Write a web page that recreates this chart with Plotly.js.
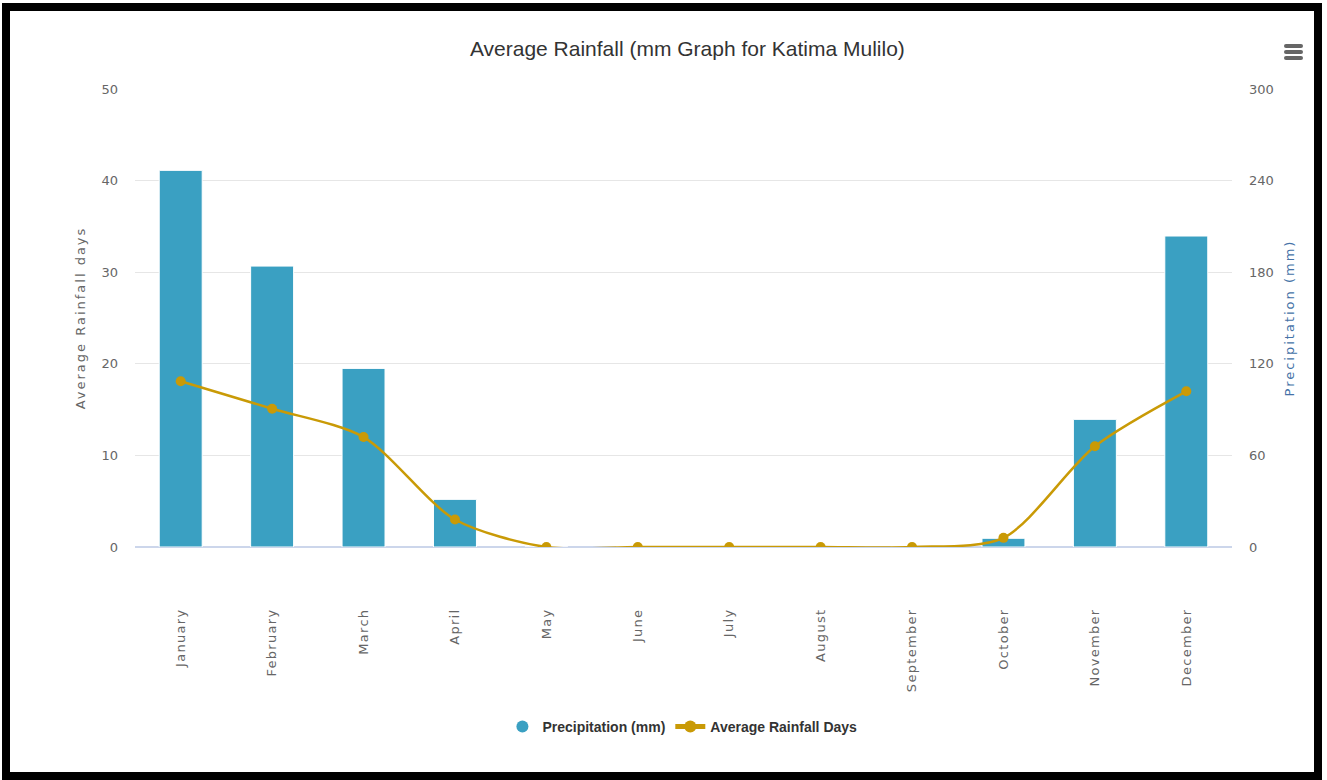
<!DOCTYPE html>
<html>
<head>
<meta charset="utf-8">
<script src="https://cdn.plot.ly/plotly-3.0.1.min.js"></script>
<style>
  html, body { margin: 0; padding: 0; background: #ffffff; width: 1327px; height: 780px; overflow: hidden; }
  #chart { position: absolute; left: 0; top: 0; width: 1327px; height: 780px; }
  #frame { position: absolute; left: 2px; top: 3px; width: 1304px; height: 761px; border: 8px solid #000; pointer-events: none; }
  #menu { position: absolute; left: 1284px; top: 44px; width: 19px; pointer-events: none; }
  #menu div { height: 4px; background: #666; border-radius: 2px; margin-bottom: 2px; }
  #chart text.ytitle, #chart text.y2title { letter-spacing: 2px; }
  #chart .xtick text { letter-spacing: 1.3px; }
</style>
</head>
<body>
<div id="chart"></div>
<div id="frame"></div>
<div id="menu"><div></div><div></div><div></div></div>
<script>
const months = ["January","February","March","April","May","June","July","August","September","October","November","December"];
const precipitationMm = [246.7, 184, 117, 31.2, 0, 0, 0, 0, 0, 5.7, 83.6, 203.7];
const rainfallDays = [18.1, 15.1, 12.0, 3.0, 0, 0, 0, 0, 0, 1.0, 11.0, 17.0];
const leftTicks = [0, 10, 20, 30, 40, 50];
const rightTicks = [0, 60, 120, 180, 240, 300];

const barColor = "#3aa0c2";
const lineColor = "#c99a06";
const tickFont = { family: "DejaVu Sans, Verdana, sans-serif", size: 13, color: "#666666" };

const traces = [
  {
    type: "bar", name: "Precipitation (mm)", x: months, y: precipitationMm,
    yaxis: "y", marker: { color: barColor, line: { color: "#ffffff", width: 1 } },
    showlegend: false, hoverinfo: "x+y"
  },
  {
    type: "scatter", mode: "markers", name: "Precipitation (mm)", x: [null], y: [null],
    yaxis: "y", marker: { color: barColor, size: 13, symbol: "circle" }, showlegend: true
  },
  {
    type: "scatter", mode: "lines+markers", name: "Average Rainfall Days", x: months, y: rainfallDays,
    yaxis: "y2", line: { color: lineColor, width: 2.5, shape: "spline", smoothing: 0.8 },
    marker: { color: lineColor, size: 10 }
  }
];

const layout = {
  width: 1327, height: 780,
  paper_bgcolor: "rgba(0,0,0,0)", plot_bgcolor: "#ffffff",
  margin: { l: 135, r: 95, t: 89, b: 233 },
  title: { text: "Average Rainfall (mm Graph for Katima Mulilo)", x: 0.518, xanchor: "center", y: 0.937, yanchor: "middle",
           font: { family: "Liberation Sans, Arial, sans-serif", size: 21, color: "#333333" } },
  bargap: 0.53,
  xaxis: {
    type: "category", range: [-0.5, 11.5], autorange: false, tickangle: -90, showgrid: false, zeroline: false, showline: false,
    ticks: "", ticklabelstandoff: 58, tickfont: tickFont
  },
  yaxis: {
    side: "right", range: [0, 300], tickvals: rightTicks, ticktext: rightTicks.map(String),
    showgrid: true, gridcolor: "#e6e6e6", gridwidth: 1, zeroline: true, zerolinecolor: "#ccd6eb", zerolinewidth: 2,
    showline: false, ticks: "", ticklabelstandoff: 16, tickfont: tickFont,
    title: { text: "Precipitation (mm)", standoff: 12, font: { family: "DejaVu Sans, Verdana, sans-serif", size: 13, color: "#4572a7" } }
  },
  yaxis2: {
    overlaying: "y", side: "left", range: [0, 50], tickvals: leftTicks, ticktext: leftTicks.map(String),
    showgrid: false, zeroline: false, showline: false, ticks: "", ticklabelstandoff: 16, tickfont: tickFont,
    title: { text: "Average Rainfall days", standoff: 12, font: { family: "DejaVu Sans, Verdana, sans-serif", size: 13, color: "#666666" } }
  },
  legend: {
    orientation: "h", x: 0.499, xanchor: "center", y: -0.393, yanchor: "middle",
    font: { family: "Liberation Sans, Arial, sans-serif", size: 14, color: "#333333", weight: "bold" },
    traceorder: "normal", itemsizing: "constant"
  },
  showlegend: true,
  hovermode: "closest"
};

Plotly.newPlot("chart", traces, layout, { displayModeBar: false, responsive: false });
</script>
</body>
</html>
